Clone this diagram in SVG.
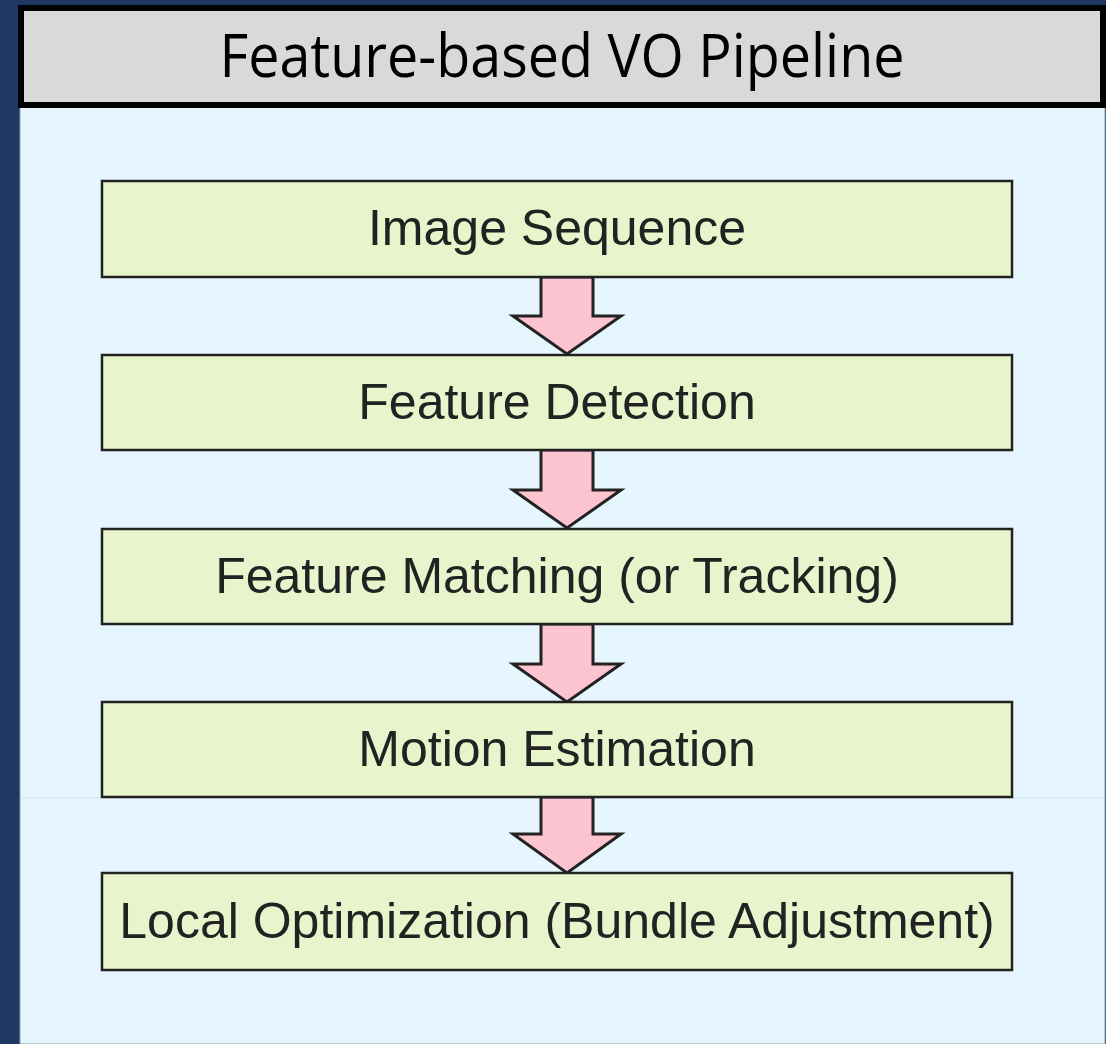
<svg xmlns="http://www.w3.org/2000/svg" width="1106" height="1044" viewBox="0 0 1106 1044">
<style>
.box{fill:#e8f5cc;stroke:#222;stroke-width:2.5}
.lbl{font-family:"Liberation Sans",Arial,sans-serif;font-size:50px;fill:#222;text-anchor:middle}
.arr{fill:#fcc4d0;stroke:#222;stroke-width:3;stroke-linejoin:miter}
</style>
<rect x="0" y="0" width="1106" height="1044" fill="#1f3864"/>
<rect x="20" y="106" width="1085" height="938" fill="#e6f6fe" stroke="#8a9bb0" stroke-width="1"/>
<line x1="21" y1="798" x2="1104" y2="798" stroke="#d2e2ee" stroke-width="1"/>
<g id="title">
<rect x="21" y="8" width="1082" height="97" fill="#d9d9d9" stroke="#000" stroke-width="6"/>
<text x="562" y="77" font-family="Open Sans,sans-serif" font-size="61" fill="#000" text-anchor="middle" textLength="685" lengthAdjust="spacingAndGlyphs">Feature-based VO Pipeline</text>
</g>
<g id="connectors">
<path class="arr" d="M541,277 V316 H513 L567,354 L621,316 H593 V277 Z"/>
<path class="arr" d="M541,450 V490 H513 L567,528 L621,490 H593 V450 Z"/>
<path class="arr" d="M541,624 V664 H513 L567,702 L621,664 H593 V624 Z"/>
<path class="arr" d="M541,797 V834 H513 L567,873 L621,834 H593 V797 Z"/>
</g>
<g id="n1"><rect class="box" x="102" y="181" width="910" height="96"/><text class="lbl" x="557" y="245">Image Sequence</text></g>
<g id="n2"><rect class="box" x="102" y="355" width="910" height="95"/><text class="lbl" x="557" y="419">Feature Detection</text></g>
<g id="n3"><rect class="box" x="102" y="529" width="910" height="95"/><text class="lbl" x="557" y="593">Feature Matching (or Tracking)</text></g>
<g id="n4"><rect class="box" x="102" y="702" width="910" height="95"/><text class="lbl" x="557" y="766">Motion Estimation</text></g>
<g id="n5"><rect class="box" x="102" y="873" width="910" height="97"/><text class="lbl" x="557" y="938">Local Optimization (Bundle Adjustment)</text></g>
</svg>
